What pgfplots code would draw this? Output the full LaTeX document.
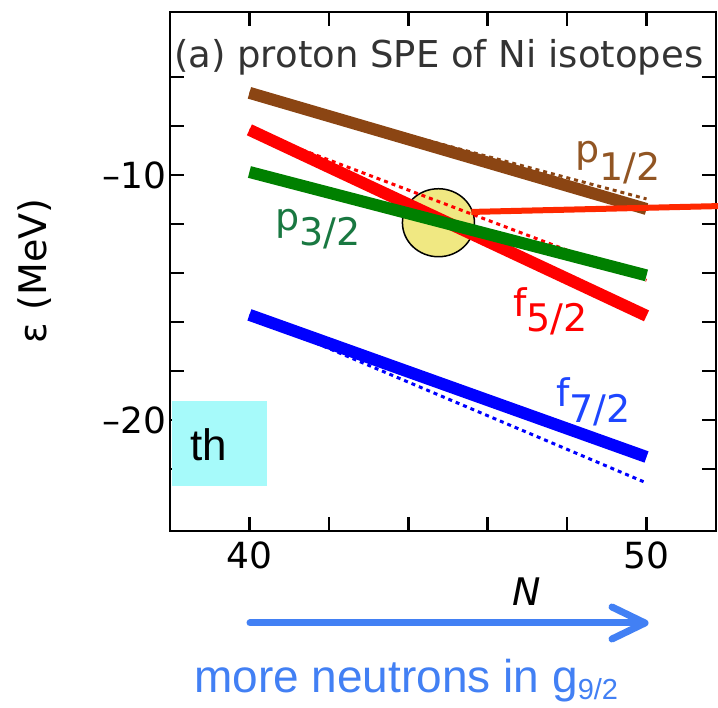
\documentclass[border=0pt]{standalone}
\usepackage{pgfplots}
\pgfplotsset{compat=1.18}
\usepackage{fontspec}
\setmainfont{DejaVu Sans}
\newfontfamily\arial{Liberation Sans}
\definecolor{cbrown}{RGB}{139,69,19}
\definecolor{cred}{RGB}{255,0,0}
\definecolor{cgreen}{RGB}{0,128,0}
\definecolor{cblue}{RGB}{0,0,255}
\definecolor{lbrown}{RGB}{145,85,35}
\definecolor{lgreen}{RGB}{25,120,65}
\definecolor{lblue}{RGB}{30,70,255}
\definecolor{annred}{RGB}{255,40,0}
\definecolor{circfill}{RGB}{240,232,130}
\definecolor{thbox}{RGB}{166,250,250}
\definecolor{arrblue}{RGB}{66,128,244}
\begin{document}
\begin{tikzpicture}[x=1bp,y=1bp]
\useasboundingbox (0,0) rectangle (718,708);
\begin{axis}[
  at={(170bp,177bp)}, anchor=south west,
  scale only axis, width=546bp, height=519bp,
  xmin=38, xmax=51.75, ymin=-24.53, ymax=-3.35,
  clip=false,
  axis line style={line width=2.5bp, black},
  xtick={40,42,44,46,48,50},
  xticklabels={40,,,,,50},
  ytick={-22,-20,-18,-16,-14,-12,-10,-8,-6},
  yticklabels={,–20,,,,,–10,,},
  major tick length=14bp,
  tick style={line width=2.5bp, black},
  tick label style={font=\fontsize{36bp}{40bp}\selectfont},
  xticklabel style={yshift=-7bp},
]
% circle (behind lines)
\draw[fill=circfill, line width=1.5bp] (axis cs:44.76,-11.95) ellipse [x radius=36bp, y radius=34bp];
% p1/2
\addplot[cbrown, line width=3bp, dash pattern=on 4bp off 4bp] coordinates {(40,-6.65) (50,-10.98)};
\addplot[cbrown, line width=12bp] coordinates {(40,-6.65) (50,-11.39)};
% f5/2
\addplot[cred, line width=3bp, dash pattern=on 4bp off 4bp] coordinates {(40,-8.16) (50,-14.30)};
\addplot[cred, line width=12bp] coordinates {(40,-8.16) (50,-15.75)};
% p3/2
\addplot[cgreen, line width=12bp] coordinates {(40,-9.88) (50,-14.10)};
% f7/2
\addplot[cblue, line width=3bp, dash pattern=on 4bp off 4bp] coordinates {(40,-15.71) (50,-22.57)};
\addplot[cblue, line width=12bp] coordinates {(40,-15.71) (50,-21.51)};
% annotation line
\addplot[annred, line width=6bp] coordinates {(45.59,-11.51) (51.84,-11.27)};
\end{axis}
% title
\node[anchor=base west, inner sep=0, text=black!80, font=\fontsize{37bp}{40bp}\selectfont] at (174,640) {(a) proton SPE of Ni isotopes};
% orbital labels
\node[anchor=base west, inner sep=0, text=lbrown, font=\fontsize{38bp}{40bp}\selectfont] at (575,545) {p\raisebox{-18bp}{1/2}};
\node[anchor=base west, inner sep=0, text=lgreen, font=\fontsize{38bp}{40bp}\selectfont] at (275,477) {p\raisebox{-15bp}{3/2}};
\node[anchor=base west, inner sep=0, text=cred, font=\fontsize{38bp}{40bp}\selectfont] at (513,391) {f\raisebox{-15bp}{5/2}};
\node[anchor=base west, inner sep=0, text=lblue, font=\fontsize{38bp}{40bp}\selectfont] at (556,301) {f\raisebox{-16bp}{7/2}};
% axis labels
\node[rotate=90, inner sep=0, font=\fontsize{38bp}{40bp}\selectfont] at (35,437) {ε (MeV)};
\node[inner sep=0, font=\fontsize{38bp}{40bp}\selectfont\itshape] at (527,116) {N};
% th box
\fill[thbox] (172,222) rectangle (267,307);
\node[anchor=base west, inner sep=0, font=\arial\fontsize{44bp}{48bp}\selectfont] at (190,247) {th};
% arrow
\draw[arrblue, line width=7bp, line cap=round] (250,85) -- (640,85);
\draw[arrblue, line width=7bp, line cap=round, line join=round] (612,101) -- (645,85) -- (612,69);
% bottom text
\node[anchor=base west, inner sep=0, text=arrblue, font=\arial\fontsize{46bp}{48bp}\selectfont] at (194,15) {more neutrons in g\raisebox{-7bp}{\fontsize{29bp}{30bp}\selectfont 9/2}};
\end{tikzpicture}
\end{document}
